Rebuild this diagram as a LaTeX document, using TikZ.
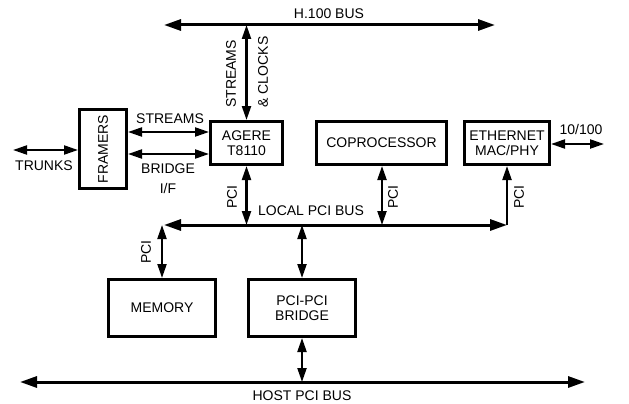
\documentclass[tikz,border=0pt]{standalone}
\usepackage{fontspec}
\setmainfont{Liberation Sans}
\usetikzlibrary{arrows.meta}
\begin{document}
\begin{tikzpicture}[x=1pt,y=-1pt,
  box/.style={draw,line width=3pt,inner sep=0pt,align=center,font=\fontsize{14}{15}\selectfont},
  lbl/.style={inner sep=0pt,font=\fontsize{14}{17}\selectfont,align=center},
  bus/.style={line width=3pt,{Triangle[length=17pt,width=11pt]}-{Triangle[length=17pt,width=11pt]}},
  link/.style={line width=2.2pt,{Triangle[length=14pt,width=9pt]}-{Triangle[length=14pt,width=9pt]}},
  linkr/.style={line width=2.2pt,-{Triangle[length=14pt,width=9pt]}}]
\useasboundingbox (0,0) rectangle (629,404);
% boxes
\node[box,minimum width=72pt,minimum height=43pt] (agere) at (246.5,143) {AGERE\\T8110};
\node[box,minimum width=47pt,minimum height=79pt] (framers) at (103,149) {\rotatebox{90}{FRAMERS}};
\node[box,minimum width=130pt,minimum height=43pt] (copro) at (381.5,143) {COPROCESSOR};
\node[box,minimum width=85pt,minimum height=43pt] (eth) at (507,143) {ETHERNET\\MAC/PHY};
\node[box,minimum width=107pt,minimum height=57pt] (mem) at (162,308) {MEMORY};
\node[box,minimum width=107pt,minimum height=57pt] (bridge) at (302,308) {PCI-PCI\\BRIDGE};
% bus end points
\coordinate (hW) at (164,25);
\coordinate (hE) at (495,25);
\coordinate (lW) at (164,225);
\coordinate (lE) at (507,225);
\coordinate (pW) at (20,382);
\coordinate (pE) at (585,382);
\coordinate (trW) at (13,150);
\coordinate (nE) at (604,144);
% buses
\draw[bus] (hW) -- (hE);
\draw[bus] (lW) -- (lE);
\draw[bus] (pW) -- (pE);
% links
\draw[link] (agere.north) -- (agere.north |- hW);
\draw[link] (agere.south) -- (agere.south |- lW);
\draw[link] (copro.south -| 382,0) -- (382,225);
\draw[linkr] (lE) -- (eth.south);
\draw[link] (mem.north) -- (mem.north |- lW);
\draw[link] (bridge.north) -- (bridge.north |- lW);
\draw[link] (bridge.south) -- (bridge.south |- pW);
\draw[link] (framers.east |- 0,132) -- (agere.west |- 0,132);
\draw[link] (framers.east |- 0,154) -- (agere.west |- 0,154);
\draw[link] (trW) -- (framers.west |- trW);
\draw[link] (eth.east |- nE) -- (nE);
% labels
\node[lbl] at (329,14) {H.100 BUS};
\node[lbl,rotate=90] at (231,74) {STREAMS};
\node[lbl,rotate=90] at (263,72) {\& CLOCKS};
\node[lbl] at (170,119) {STREAMS};
\node[lbl] at (168,169) {BRIDGE};
\node[lbl] at (168,188) {I/F};
\node[lbl] at (44,166) {TRUNKS};
\node[lbl] at (581,129) {10/100};
\node[lbl] at (311,211) {LOCAL PCI BUS};
\node[lbl,rotate=90] at (232,197) {PCI};
\node[lbl,rotate=90] at (393,197) {PCI};
\node[lbl,rotate=90] at (519,197) {PCI};
\node[lbl,rotate=90] at (146,252) {PCI};
\node[lbl] at (302,396) {HOST PCI BUS};
\end{tikzpicture}
\end{document}
